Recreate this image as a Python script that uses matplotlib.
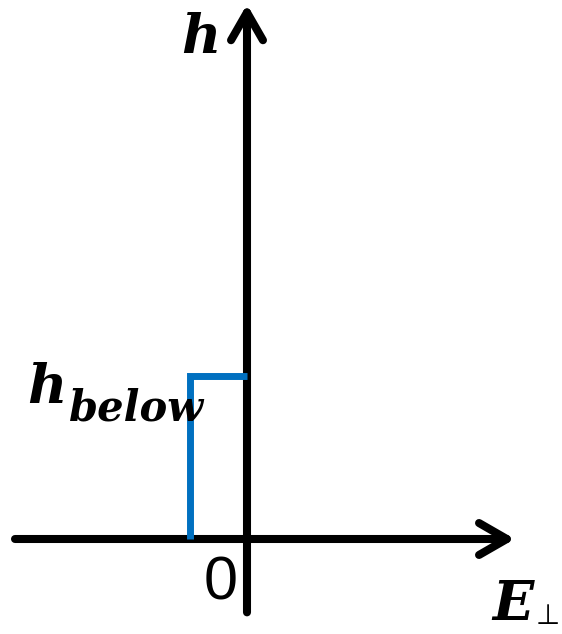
import matplotlib
matplotlib.use("Agg")
import matplotlib.pyplot as plt

# Step profile: h jumps to h_below for E_perp between -1 and 0
step_E = [-1.0, -1.0, 0.0]
step_h = [0.0, 1.0, 1.0]

# axis extents (data units)
x_axis = (-4.07, 4.70)
y_axis = (-0.45, 3.28)

SERIF_BI = dict(family='DejaVu Serif', style='italic', weight='bold')

fig = plt.figure(figsize=(5.62, 6.34), dpi=100)
ax = fig.add_axes([0, 0, 1, 1])
ax.set_xlim(-247 / 57, (562 - 247) / 57)
ax.set_ylim(-95 / 163, 539 / 163)
ax.axis('off')

arrow_kw = dict(arrowstyle='->, head_length=2.0, head_width=1.15', color='black',
                lw=5.8, shrinkA=0, shrinkB=0, mutation_scale=10,
                capstyle='round', joinstyle='round')

# horizontal axis (E_perp)
ax.annotate('', xy=(x_axis[1], 0), xytext=(x_axis[0], 0), arrowprops=arrow_kw)
# vertical axis (h)
ax.annotate('', xy=(0, y_axis[1]), xytext=(0, y_axis[0]), arrowprops=arrow_kw)

# blue step
ax.plot(step_E, step_h, color='#0070C0', lw=5.0, solid_joinstyle='miter',
        solid_capstyle='butt', zorder=3)

# labels
ax.text(-1.16, 2.98, 'h', fontsize=39, ha='left', va='baseline', **SERIF_BI)
ax.text(-3.86, 0.834, 'h', fontsize=39, ha='left', va='baseline', **SERIF_BI)
ax.text(-3.12, 0.73, 'below', fontsize=30, ha='left', va='baseline', **SERIF_BI)
ax.text(-0.456, -0.374, '0', fontsize=44, family='Liberation Sans',
        ha='center', va='baseline')
ax.text(4.30, -0.497, 'E', fontsize=39, ha='left', va='baseline', **SERIF_BI)
ax.text(5.06, -0.52, '\u22a5', fontsize=20, family='DejaVu Sans',
        ha='left', va='baseline')

fig.savefig('out.png', dpi=100)
